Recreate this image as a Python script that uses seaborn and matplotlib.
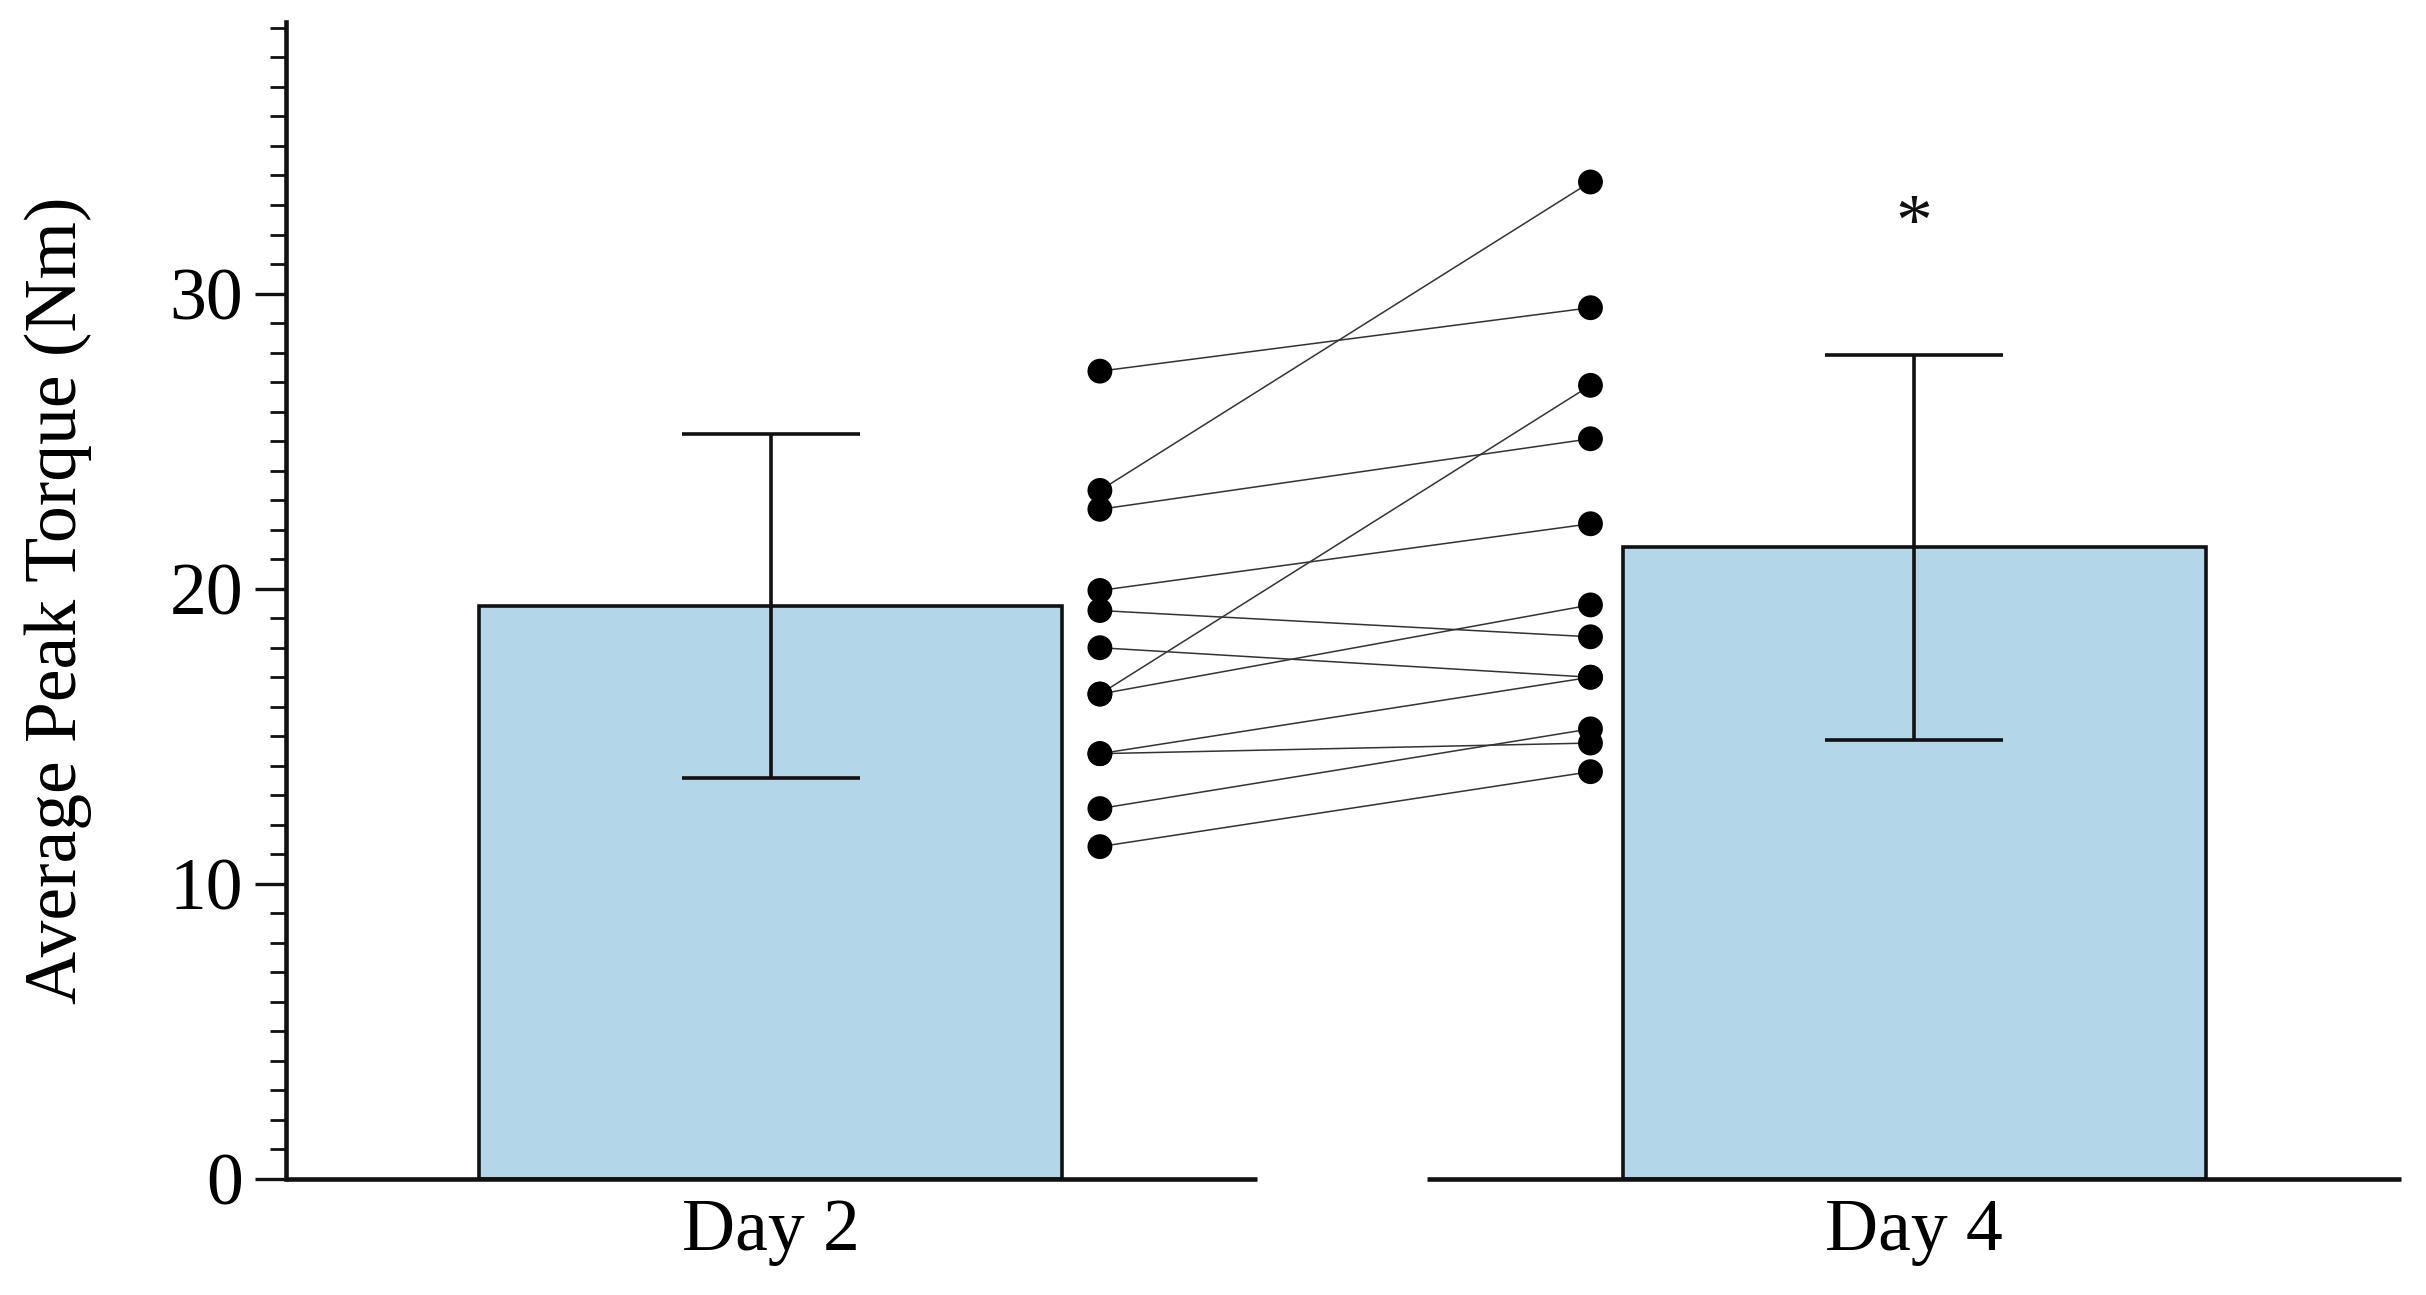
import numpy as np
import pandas as pd
import matplotlib
matplotlib.use("Agg")
import matplotlib.pyplot as plt
import matplotlib.transforms as mtransforms
from matplotlib.ticker import MultipleLocator
import seaborn as sns

# ---- data ----
days = ["Day 2", "Day 4"]
bar_means = [19.4, 21.4]
bar_sd = [5.83, 6.53]
day2_values = [27.37, 23.33, 22.69, 19.94, 19.26, 18.00, 16.43, 16.43, 14.41, 14.41, 12.55, 11.26]
day4_values = [29.52, 33.78, 25.08, 22.20, 18.37, 17.00, 26.89, 19.45, 17.00, 14.77, 15.25, 13.80]
star_y = 32.25

# ---- style ----
sns.set_theme(style="ticks")
plt.rcParams["font.family"] = ["Liberation Serif", "DejaVu Serif"]
plt.rcParams["text.color"] = "black"
plt.rcParams["axes.labelcolor"] = "black"
plt.rcParams["xtick.color"] = "black"
plt.rcParams["ytick.color"] = "black"
FS = 53
INK = "#111111"

fig = plt.figure(figsize=(24.26, 12.95), dpi=100)
ax = fig.add_axes([0.118, 0.0896, 0.8718, 0.8934])

bar_df = pd.DataFrame({"day": days, "mean": bar_means})
sns.barplot(data=bar_df, x="day", y="mean", ax=ax, color="#b3d6e9",
            saturation=1, width=0.51, edgecolor=INK, linewidth=2.6,
            errorbar=None)
ax.errorbar(x=np.arange(len(days)), y=bar_means, yerr=bar_sd, fmt="none",
            ecolor=INK, elinewidth=2.6, capsize=64, capthick=2.6, zorder=5)

# paired subject lines
x_left, x_right = 0.288, 0.717
n = len(day2_values)
pair_df = pd.DataFrame({
    "subject": list(range(n)) * 2,
    "pos": [x_left] * n + [x_right] * n,
    "torque": day2_values + day4_values,
})
sns.lineplot(data=pair_df, x="pos", y="torque", units="subject", estimator=None,
             color="#333333", linewidth=1.1, ax=ax, zorder=3)
sns.scatterplot(data=pair_df, x="pos", y="torque", color="black", s=320,
                edgecolor="none", ax=ax, zorder=4)

ax.text(1, star_y, "*", ha="center", va="center", fontsize=FS, color=INK)

# axes
ax.set_xlim(-0.4235, 1.426)
ax.set_ylim(0, 39.2)
ax.yaxis.set_major_locator(MultipleLocator(10))
ax.yaxis.set_minor_locator(MultipleLocator(1))
ax.set_xticks([0, 1])
ax.set_xticklabels(days)
ax.tick_params(axis="y", which="major", length=22, width=2.4, labelsize=FS,
               pad=9, color=INK, labelcolor="black")
ax.tick_params(axis="y", which="minor", length=11.5, width=2.0, color=INK)
ax.tick_params(axis="x", length=0, labelsize=FS, pad=14, labelcolor="black")
ax.set_xlabel("")
ax.set_ylabel("Average Peak Torque (Nm)", fontsize=FS, color="black")
ax.yaxis.set_label_coords(-0.092, 0.5)

for s in ["top", "right", "bottom"]:
    ax.spines[s].set_visible(False)
ax.spines["left"].set_linewidth(3.3)
ax.spines["left"].set_color(INK)

# broken x-axis line: two segments
trans = mtransforms.blended_transform_factory(ax.transData, ax.transAxes)
ax.plot([-0.4235, 0.425], [0, 0], transform=trans, color=INK, lw=3.3,
        clip_on=False, solid_capstyle="butt", zorder=6)
ax.plot([0.574, 1.426], [0, 0], transform=trans, color=INK, lw=3.3,
        clip_on=False, solid_capstyle="butt", zorder=6)

fig.savefig("out.png", dpi=100)
